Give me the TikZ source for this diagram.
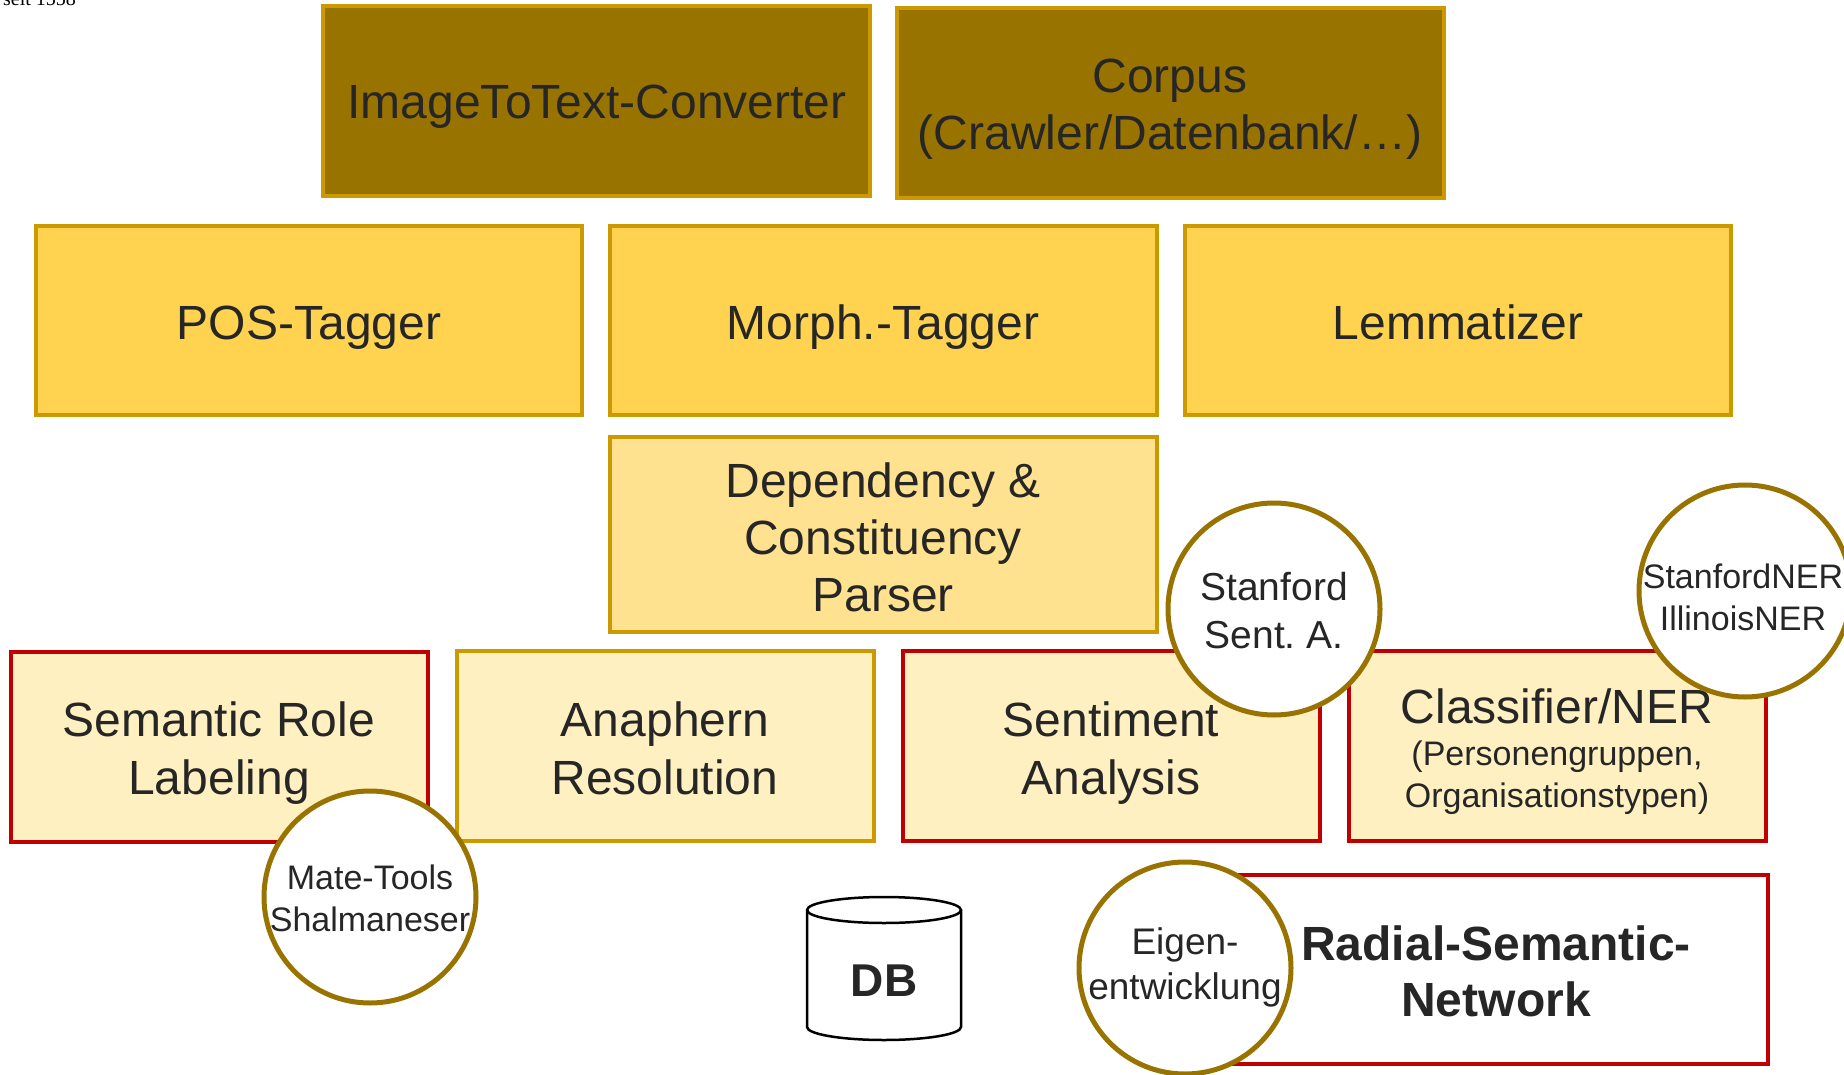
\documentclass[tikz,border=0pt]{standalone}
\usepackage{fontspec}
\setmainfont{Liberation Sans}
\newfontfamily\serifsmall{Liberation Serif}
\frenchspacing
\definecolor{darkgold}{HTML}{997300}
\definecolor{goldline}{HTML}{CC9900}
\definecolor{yellowfill}{HTML}{FFD34F}
\definecolor{lightfill}{HTML}{FFE28F}
\definecolor{palefill}{HTML}{FFF0C1}
\definecolor{redline}{HTML}{C00000}
\definecolor{txt}{HTML}{262626}
\tikzset{
  topbox/.style={draw=goldline, fill=darkgold, line width=4.5pt},
  yelbox/.style={draw=goldline, fill=yellowfill, line width=4.5pt},
  depbox/.style={draw=goldline, fill=lightfill, line width=4.5pt},
  palebox/.style={draw=goldline, fill=palefill, line width=4.5pt},
  redbox/.style={draw=redline, fill=palefill, line width=4.5pt},
  redframe/.style={draw=redline, fill=white, line width=4.5pt},
  toolcircle/.style={draw=darkgold, fill=white, line width=5pt, circle, minimum size=212pt, inner sep=0pt},
  bigtext/.style={text=txt, align=center, inner sep=0pt, font=\fontsize{48}{58}\selectfont},
  smalltext/.style={text=txt, align=center, inner sep=0pt, font=\fontsize{34}{42}\selectfont},
}
\begin{document}
\begin{tikzpicture}[x=1pt,y=-1pt]
\useasboundingbox (0,0) rectangle (1844,1075);
\node[anchor=base west, inner sep=0pt, font=\serifsmall\fontsize{20}{24}\selectfont] (seit) at (3,6) {seit 1558};

% top row
\draw[topbox] (323,6) rectangle (870,196);
\node[bigtext, anchor=base] (itt) at (597,119) {ImageToText-Converter};
\draw[topbox] (897,8) rectangle (1444,198);
\node[bigtext, font=\fontsize{48}{57}\selectfont] (corpus) at (1170,109) {Corpus\\(Crawler/Datenbank/\dots)};

% second row
\draw[yelbox] (36,226) rectangle (582,415);
\node[bigtext, anchor=base] (pos) at (309,339) {POS-Tagger};
\draw[yelbox] (610,226) rectangle (1157,415);
\node[bigtext, anchor=base] (morph) at (883,339) {Morph.-Tagger};
\draw[yelbox] (1185,226) rectangle (1731,415);
\node[bigtext, anchor=base] (lemma) at (1458,339) {Lemmatizer};

% parser
\draw[depbox] (610,437) rectangle (1157,632);
\node[bigtext, font=\fontsize{48}{57}\selectfont] (dep) at (883,537) {Dependency \&\\Constituency\\Parser};

% bottom row
\draw[redbox] (11,652) rectangle (428,842);
\node[bigtext] (srl) at (219,753) {Semantic Role\\Labeling};
\draw[palebox] (457,651) rectangle (874,841);
\node[bigtext] (ana) at (665,748) {Anaphern\\Resolution};
\draw[redbox] (903,651) rectangle (1320,841);
\node[bigtext] (sent) at (1111,753) {Sentiment\\Analysis};
\draw[redbox] (1349,651) rectangle (1766,841);
\node[smalltext] (cls) at (1557,752) {{\fontsize{48}{42}\selectfont Classifier/NER}\\(Personengruppen,\\Organisationstypen)};

% radial semantic network
\draw[redframe] (1185,875) rectangle (1768,1064);
\node[bigtext, font=\bfseries\fontsize{48}{56}\selectfont] (rsn) at (1496,971) {Radial-Semantic-\\Network};

% DB cylinder
\coordinate (dbtl) at (807,910);
\coordinate (dbbl) at (807,1027);
\coordinate (dbbr) at (961,1027);
\draw[line width=2.5pt, fill=white] (dbtl) -- (dbbl) arc[start angle=180, end angle=360, x radius=77, y radius=-13] -- (961,910) arc[start angle=0, end angle=180, x radius=77, y radius=-13] -- cycle;
\draw[line width=2.5pt] (dbtl) arc[start angle=180, end angle=360, x radius=77, y radius=-13];
\node[text=txt, inner sep=0pt, font=\bfseries\fontsize{46}{56}\selectfont] (db) at (884,981) {DB};

% tool circles
\node[toolcircle] (sa) at (1274,609) {};
\node[text=txt, align=center, inner sep=0pt, font=\fontsize{39}{48}\selectfont] (sat) at (1274,611) {Stanford\\Sent. A.};
\node[toolcircle] (ner) at (1745,591) {};
\node[smalltext] (nert) at (1743,597) {StanfordNER\\IllinoisNER};
\node[toolcircle] (mate) at (370,897) {};
\node[smalltext] (matet) at (370,898) {Mate-Tools\\Shalmaneser};
\node[toolcircle] (eigen) at (1185,968) {};
\node[smalltext, font=\fontsize{37}{45}\selectfont] (eigent) at (1185,967) {Eigen-\\entwicklung};
\end{tikzpicture}
\end{document}
